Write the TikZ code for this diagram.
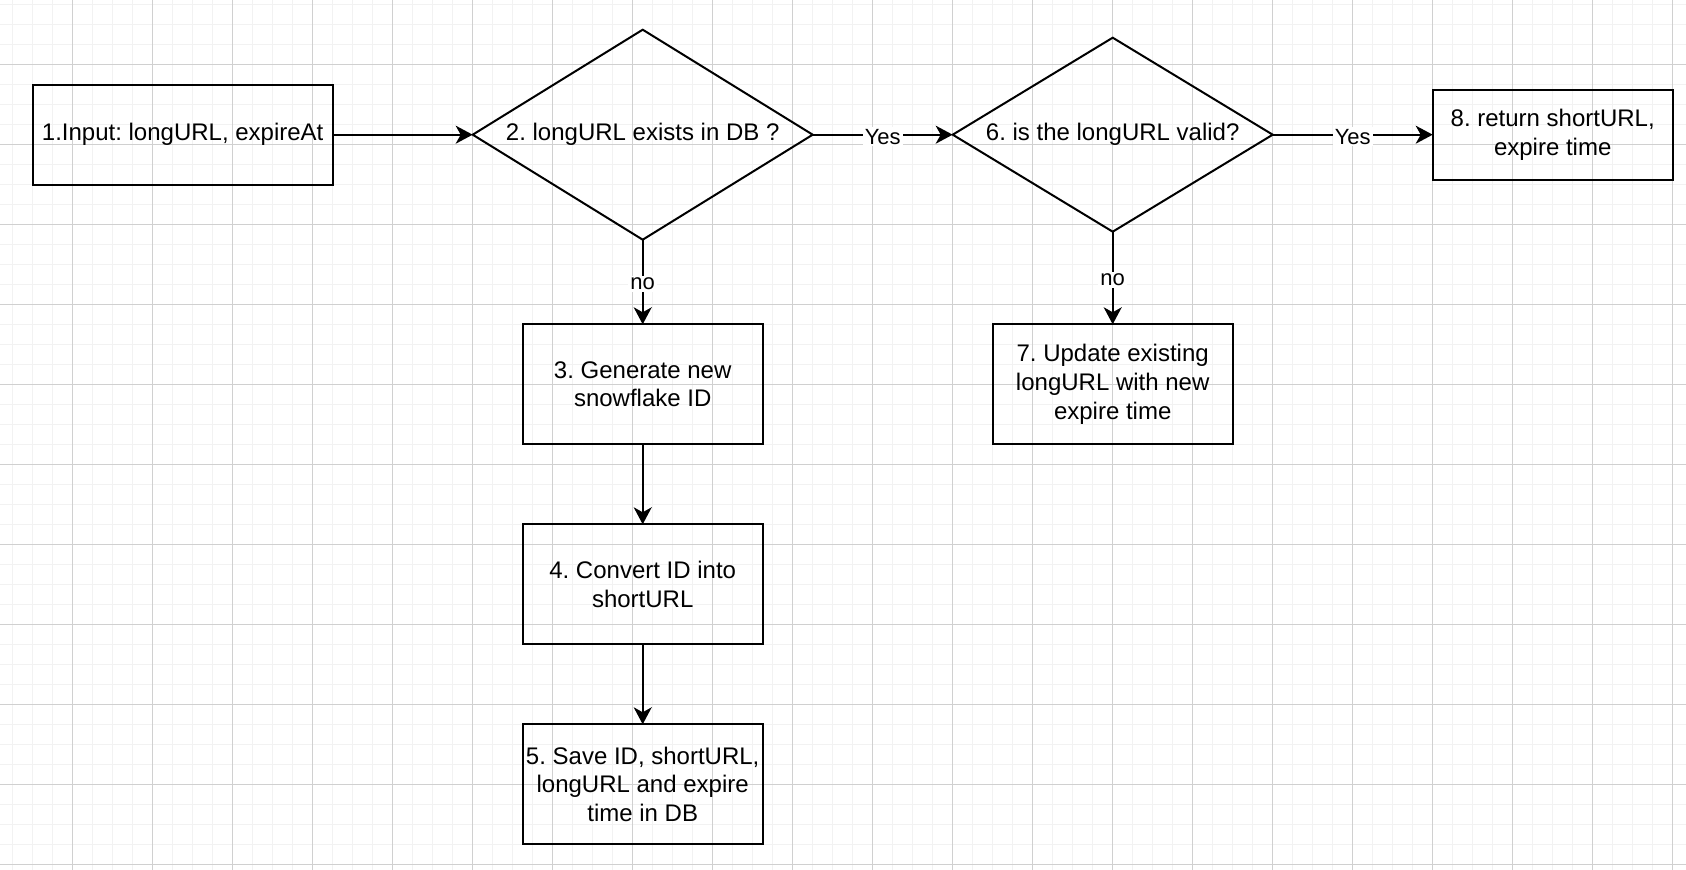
\documentclass[tikz,border=0pt]{standalone}
\usepackage{fontspec}
\setmainfont{Liberation Sans}
\usetikzlibrary{positioning,shapes.geometric,arrows.meta}
\definecolor{gridminor}{HTML}{F2F2F2}
\definecolor{gridmajor}{HTML}{D0D0D0}
\frenchspacing

\begin{document}
\begin{tikzpicture}
			\tikzset{
				my box/.style={
						draw, line width=1pt, inner sep=0pt, outer sep=0pt,
						minimum width=120pt, minimum height=60pt,
						align=center, font=\fontsize{12}{14.4}\selectfont,
					},
				my check/.style={
						my box, diamond, aspect=1.6,
					},
				my edge/.style={
						line width=1pt, -{Stealth[length=8.5pt,width=9pt,inset=2.5pt]},
					},
				my label/.style={
						fill=white, inner sep=1pt, yshift=-1pt, font=\fontsize{11}{13.2}\selectfont,
					},
			}
			\useasboundingbox (0,0) rectangle (843pt,-435pt);
			\fill[white] (0,0) rectangle (843pt,-435pt);
			\begin{scope}
				\clip (0,0) rectangle (843pt,-435pt);
				\draw[gridminor, line width=0.5pt, xshift=6.35pt, yshift=-2.15pt] (-10pt,10pt) grid[step=10pt] (850pt,-440pt);
				\draw[gridmajor, line width=0.5pt, xshift=36.35pt, yshift=-32.15pt] (-40pt,40pt) grid[step=40pt] (840pt,-440pt);
			\end{scope}
			%
			\node[my box, minimum width=150pt, minimum height=50pt] at (91.35pt,-67.35pt) (b1) {1.Input: longURL, expireAt};
			\node[my check, minimum width=170pt, minimum height=105pt, right=70pt of b1] (d2) {2. longURL exists in DB ?};
			\node[my check, minimum width=160pt, minimum height=97pt, right=70pt of d2] (d6) {6. is the longURL valid?};
			\node[my box, minimum height=45pt, right=80pt of d6] (b8) {8. return shortURL,\\expire time};
			\node[my box, below=42.3pt of d2] (b3) {3. Generate new\\snowflake ID};
			\node[my box, below=40pt of b3] (b4) {4. Convert ID into\\shortURL};
			\node[my box, below=40pt of b4] (b5) {5. Save ID, shortURL,\\longURL and expire\\time in DB};
			\node[my box, below=46.3pt of d6] (b7) {7. Update existing\\longURL with new\\expire time};
			%
			\draw[my edge] (b1) -- (d2);
			\draw[my edge] (d2) -- node[my label] {Yes} (d6);
			\draw[my edge] (d6) -- node[my label] {Yes} (b8);
			\draw[my edge] (d2) -- node[my label] {no} (b3);
			\draw[my edge] (d6) -- node[my label] {no} (b7);
			\draw[my edge] (b3) -- (b4);
			\draw[my edge] (b4) -- (b5);
		\end{tikzpicture}
\end{document}
